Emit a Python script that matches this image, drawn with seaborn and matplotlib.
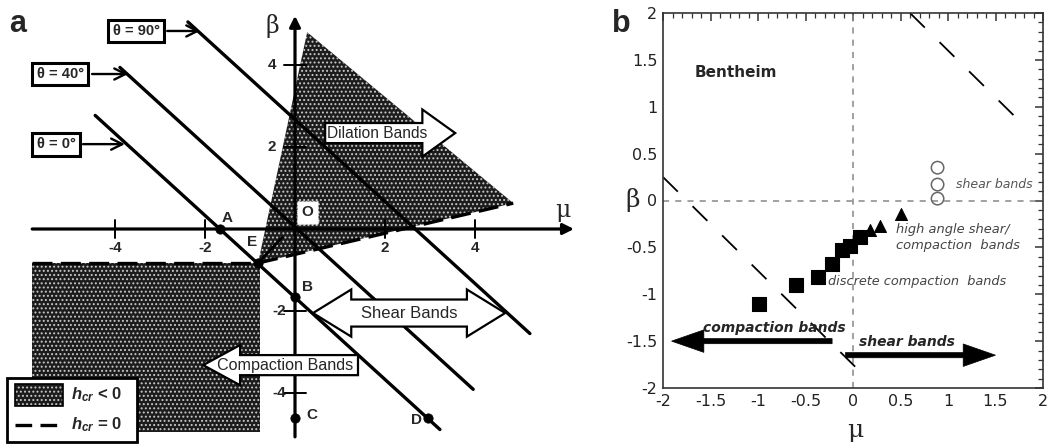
import numpy as np
import pandas as pd
import matplotlib
matplotlib.use("Agg")
import matplotlib.pyplot as plt
import seaborn as sns
from matplotlib.patches import Polygon, Rectangle
from matplotlib.ticker import MultipleLocator, FormatStrFormatter

sns.set_theme(style="white")
plt.rcParams["font.family"] = ["Liberation Sans", "DejaVu Sans"]
plt.rcParams["mathtext.fontset"] = "custom"
plt.rcParams["mathtext.it"] = "Liberation Sans:bold:italic"
plt.rcParams["mathtext.rm"] = "Liberation Sans:bold"
plt.rcParams["hatch.linewidth"] = 0.9

# ---------------- panel a : bifurcation diagram in the (mu, beta) plane
theta_labels = ["θ = 0°", "θ = 40°", "θ = 90°"]
theta_intercepts = [-1.67, 0.05, 2.67]
theta_mu_start = [-4.44, -3.89, -2.38]
theta_mu_end = [3.22, 3.96, 5.22]
theta_box_mu = [-5.31, -5.22, -3.53]
theta_box_beta = [2.07, 3.78, 4.83]
theta_arrow_from = [-4.71, -4.51, -2.84]
theta_arrow_to = [-3.78, -3.71, -2.11]

point_names = ["A", "E", "B", "C", "D"]
point_mu = [-1.67, -0.82, 0.0, 0.0, 2.95]
point_beta = [0.0, -0.83, -1.66, -4.6, -4.62]
point_label_dmu = [0.16, -0.14, 0.27, 0.38, -0.26]
point_label_dbeta = [0.27, 0.51, 0.25, 0.06, -0.04]

axis_ticks = [-4, -2, 2, 4]

dilation_mu = [0.27, 4.85, -0.82]
dilation_beta = [4.8, 0.63, -0.83]
compaction_mu = [-5.84, -0.78]
compaction_beta = [-4.95, -0.83]

# ---------------- panel b : Bentheim sandstone data
sq_mu = [-0.99, -0.60, -0.37, -0.22, -0.12, -0.03, 0.07]
sq_beta = [-1.10, -0.90, -0.82, -0.68, -0.53, -0.49, -0.39]
tri_mu = [0.18, 0.28, 0.50]
tri_beta = [-0.31, -0.27, -0.14]
circ_mu = [0.89, 0.89, 0.89]
circ_beta = [0.35, 0.17, 0.02]

diag_intercepts = [-1.75, 2.6]
diag_mu_start = [-2.0, 0.6]
diag_mu_end = [0.1, 1.84]

W, H = 1051, 447
fig = plt.figure(figsize=(W / 100, H / 100), dpi=100)


def harrow(x0, x1, y, body_h, head_h, head_l, double=False, fc="white", lw=1.6, z=6):
    s = np.sign(x1 - x0)
    hb = x1 - s * head_l
    if double:
        ta = x0 + s * head_l
        pts = [(x0, y), (ta, y + head_h / 2), (ta, y + body_h / 2), (hb, y + body_h / 2),
               (hb, y + head_h / 2), (x1, y), (hb, y - head_h / 2), (hb, y - body_h / 2),
               (ta, y - body_h / 2), (ta, y - head_h / 2)]
    else:
        pts = [(x0, y + body_h / 2), (hb, y + body_h / 2), (hb, y + head_h / 2), (x1, y),
               (hb, y - head_h / 2), (hb, y - body_h / 2), (x0, y - body_h / 2)]
    return Polygon(pts, closed=True, facecolor=fc, edgecolor="black", lw=lw, zorder=z,
                   joinstyle="miter")


# ======== panel a
axa = fig.add_axes([0, 0, 590 / W, 1])
axa.set_xlim(-295 / 45, (590 - 295) / 45)
axa.set_ylim((229 - 447) / 41, 229 / 41)
axa.axis("off")

hatch_kw = dict(facecolor="#1c1c1c", edgecolor="#c8c8c8", hatch="....", lw=0, zorder=1)
axa.add_patch(Polygon(list(zip(dilation_mu, dilation_beta)), closed=True, **hatch_kw))
axa.add_patch(Rectangle((compaction_mu[0], compaction_beta[0]),
                        compaction_mu[1] - compaction_mu[0],
                        compaction_beta[1] - compaction_beta[0], **hatch_kw))

# h_cr = 0 boundaries
axa.plot([dilation_mu[2], dilation_mu[1]], [dilation_beta[2], dilation_beta[1]],
         color="black", lw=2.4, dashes=(6, 2.5), zorder=3)
axa.plot([compaction_mu[0], compaction_mu[1]], [compaction_beta[1], compaction_beta[1]],
         color="black", lw=2.4, dashes=(6, 2.5), zorder=3)
axa.plot([dilation_mu[2], dilation_mu[0] - 0.55], [dilation_beta[2], dilation_beta[0] - 5.0],
         color="black", lw=2.0, zorder=3)

# coordinate axes
axa.annotate("", xy=(6.2, 0), xytext=(-5.84, 0),
             arrowprops=dict(arrowstyle="-|>", lw=2.3, color="black", mutation_scale=16,
                             shrinkA=0, shrinkB=0), zorder=4)
axa.annotate("", xy=(0, 5.2), xytext=(0, -5.07),
             arrowprops=dict(arrowstyle="-|>", lw=2.3, color="black", mutation_scale=16,
                             shrinkA=0, shrinkB=0), zorder=4)
for t in axis_ticks:
    axa.plot([t, t], [-0.22, 0.22], color="black", lw=1.4, zorder=4)
    axa.plot([-0.24, 0.24], [t, t], color="black", lw=1.4, zorder=4)
    axa.text(t, -0.47, f"{t}", ha="center", va="center", fontsize=11, fontweight="bold")
    axa.text(-0.52 if t > 0 else -0.36, t, f"{t}", ha="center", va="center",
             fontsize=11, fontweight="bold", zorder=7)
axa.text(-0.5, 4.96, "β", fontsize=17, family="DejaVu Serif", ha="center", va="center")
axa.text(5.96, 0.45, "μ", fontsize=17, family="DejaVu Serif", ha="center", va="center")

# bifurcation lines for each band orientation
for lab, b0, m0, m1, bx, by, a0, a1 in zip(theta_labels, theta_intercepts, theta_mu_start,
                                          theta_mu_end, theta_box_mu, theta_box_beta,
                                          theta_arrow_from, theta_arrow_to):
    mu = np.array([m0, m1])
    sns.lineplot(x=mu, y=-mu + b0, ax=axa, color="black", lw=2.4, zorder=3)
    axa.text(bx, by, lab, ha="center", va="center", fontsize=10.5, fontweight="bold",
             bbox=dict(boxstyle="square,pad=0.3", fc="white", ec="black", lw=2.2), zorder=7)
    axa.annotate("", xy=(a1, by), xytext=(a0, by),
                 arrowprops=dict(arrowstyle="->", lw=1.7, color="black", mutation_scale=20,
                                 shrinkA=0, shrinkB=0))

sns.scatterplot(x=point_mu, y=point_beta, ax=axa, color="black", s=45, zorder=8,
                edgecolor="black", legend=False)
for n, m, b, dm, db in zip(point_names, point_mu, point_beta, point_label_dmu, point_label_dbeta):
    axa.text(m + dm, b + db, n, ha="center", va="center", fontsize=11,
             fontweight="bold", zorder=8)
axa.text(0.27, 0.41, "O", ha="center", va="center", fontsize=11, fontweight="bold",
         bbox=dict(boxstyle="square,pad=0.3", fc="white", ec="#dddddd", lw=1, ls=":"),
         zorder=8)

# band type arrows
axa.add_patch(harrow(0.67, 3.56, 2.34, 0.49, 1.15, 0.73))
axa.text(1.83, 2.34, "Dilation Bands", ha="center", va="center", fontsize=11.2, zorder=7)
axa.add_patch(harrow(0.40, 4.67, -2.05, 0.66, 1.15, 0.85, double=True))
axa.text(2.53, -2.05, "Shear Bands", ha="center", va="center", fontsize=12, zorder=7)
axa.add_patch(harrow(1.40, -2.04, -3.32, 0.49, 0.98, 0.82))
axa.text(-0.21, -3.32, "Compaction Bands", ha="center", va="center", fontsize=11.6, zorder=7)

# legend box
axa.add_patch(Rectangle((-6.4, -5.2), 2.89, 1.57, fc="white", ec="black", lw=2, zorder=9))
axa.add_patch(Rectangle((-6.22, -4.32), 1.07, 0.54, facecolor="#1c1c1c",
                        edgecolor="#c8c8c8", hatch="....", lw=0, zorder=10))
axa.add_patch(Rectangle((-6.22, -4.32), 1.07, 0.54, fill=False, ec="black", lw=1.2, zorder=10))
axa.plot([-6.22, -5.15], [-4.77, -4.77], color="black", lw=2.4, dashes=(5, 2.5), zorder=10)
axa.text(-4.98, -4.05, r"$h_{cr}$ < 0", fontsize=12, fontweight="bold", va="center", zorder=10)
axa.text(-4.98, -4.77, r"$h_{cr}$ = 0", fontsize=12, fontweight="bold", va="center", zorder=10)

fig.text(18 / W, 1 - 24 / H, "a", fontsize=22, fontweight="bold", ha="center", va="center")

# ======== panel b
axb = fig.add_axes([663 / W, 1 - 388 / H, 380 / W, 375 / H])
axb.set_xlim(-2, 2)
axb.set_ylim(-2, 2)
for sp in axb.spines.values():
    sp.set_color("#333333")
    sp.set_linewidth(1.2)
axb.xaxis.set_major_locator(MultipleLocator(0.5))
axb.yaxis.set_major_locator(MultipleLocator(0.5))
axb.xaxis.set_minor_locator(MultipleLocator(0.1))
axb.yaxis.set_minor_locator(MultipleLocator(0.1))
axb.xaxis.set_major_formatter(FormatStrFormatter("%g"))
axb.yaxis.set_major_formatter(FormatStrFormatter("%g"))
axb.tick_params(which="both", direction="in", top=True, right=True, color="#333333")
axb.tick_params(which="major", length=6, width=1.1, labelsize=11.5, pad=4)
axb.tick_params(which="minor", length=3.5, width=0.9)
for lab in axb.get_xticklabels() + axb.get_yticklabels():
    lab.set_fontfamily("DejaVu Sans")
    lab.set_color("#222222")

axb.axhline(0, color="#888888", lw=1.1, dashes=(4, 4), zorder=1)
axb.axvline(0, color="#888888", lw=1.1, dashes=(4, 4), zorder=1)
for b0, m0, m1 in zip(diag_intercepts, diag_mu_start, diag_mu_end):
    mu = np.array([m0, m1])
    sns.lineplot(x=mu, y=-mu + b0, ax=axb, color="black", lw=1.3, dashes=False, zorder=2)
    axb.lines[-1].set_dashes((11.5, 11.5))

sns.scatterplot(x=sq_mu, y=sq_beta, ax=axb, marker="s", s=95, color="black",
                edgecolor="black", zorder=5, legend=False)
sns.scatterplot(x=tri_mu, y=tri_beta, ax=axb, marker="^", s=75, color="black",
                edgecolor="black", zorder=5, legend=False)
sns.scatterplot(x=circ_mu, y=circ_beta, ax=axb, marker="o", s=80, facecolor="none",
                edgecolor="#666666", linewidth=1.1, zorder=5, legend=False)

axb.text(-1.67, 1.37, "Bentheim", fontsize=11, fontweight="bold", family="DejaVu Sans",
         va="center", ha="left")
axb.text(1.08, 0.175, "shear bands", fontsize=9, style="italic", color="#555555",
         family="DejaVu Sans", va="center")
axb.text(0.45, -0.40, "high angle shear/\ncompaction  bands", fontsize=9.4, style="italic",
         color="#444444", family="DejaVu Sans", va="center", linespacing=1.3)
axb.text(-0.26, -0.866, "discrete compaction  bands", fontsize=9.3, style="italic",
         color="#444444", family="DejaVu Sans", va="center")
axb.text(-1.58, -1.36, "compaction bands", fontsize=10, style="italic", fontweight="bold",
         family="DejaVu Sans", va="center")
axb.text(0.06, -1.51, "shear bands", fontsize=10, style="italic", fontweight="bold",
         family="DejaVu Sans", va="center")

axb.add_patch(harrow(-0.22, -1.91, -1.5, 0.055, 0.24, 0.34, fc="black", lw=0.5))
axb.add_patch(harrow(-0.08, 1.50, -1.65, 0.055, 0.24, 0.34, fc="black", lw=0.5))

axb.set_xlabel("")
axb.set_ylabel("")
fig.text(633 / W, 1 - 200 / H, "β", fontsize=18, family="DejaVu Serif", ha="center",
         va="center")
fig.text(855 / W, 1 - 431 / H, "μ", fontsize=18, family="DejaVu Serif", ha="center",
         va="center")
fig.text(621 / W, 1 - 24 / H, "b", fontsize=22, fontweight="bold", ha="center", va="center")

fig.savefig("out.png", dpi=100)
